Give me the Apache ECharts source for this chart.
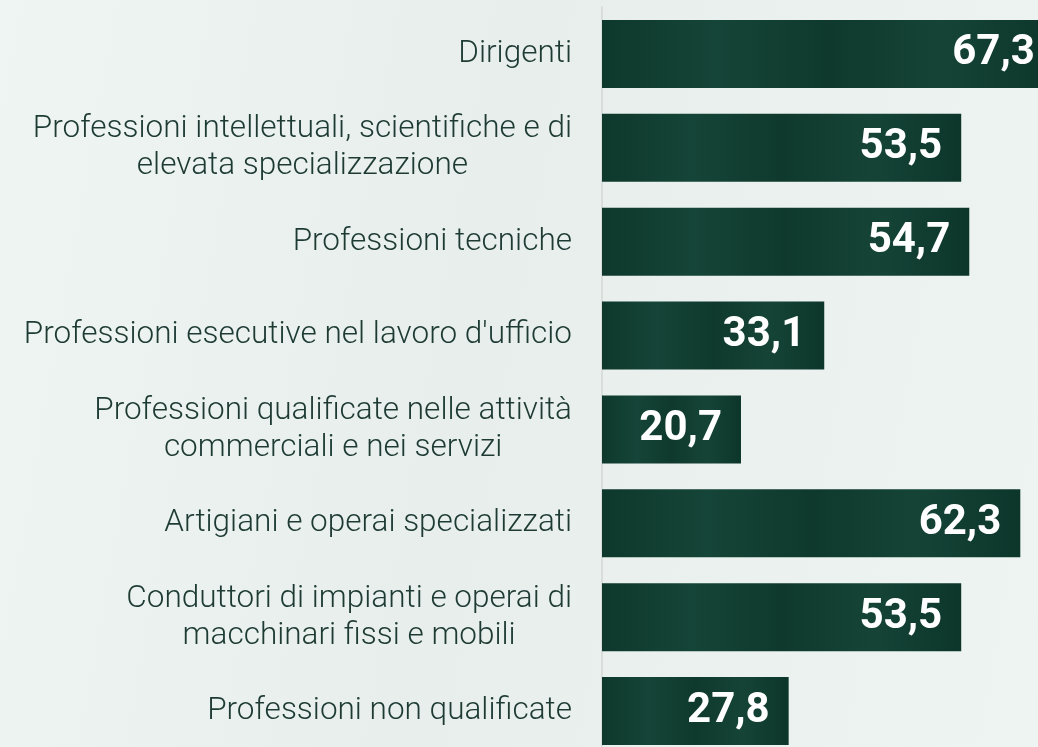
<!DOCTYPE html>
<html>
<head>
<meta charset="utf-8">
<script src="https://cdn.jsdelivr.net/npm/echarts@6/dist/echarts.min.js"></script>
<style>
  html, body { margin: 0; padding: 0; }
  body { background: linear-gradient(100deg, #eef5f2 0%, #e8eeec 45%, #edf4f1 100%); }
  #chart { width: 1038px; height: 747px; }
</style>
</head>
<body>
<div id="chart"></div>
<script>
// categorie (dall'alto verso il basso)
const categories = [
  "Dirigenti",
  "Professioni intellettuali, scientifiche e di\nelevata specializzazione",
  "Professioni tecniche",
  "Professioni esecutive nel lavoro d'ufficio",
  "Professioni qualificate nelle attività\ncommerciali e nei servizi",
  "Artigiani e operai specializzati",
  "Conduttori di impianti e operai di\nmacchinari fissi e mobili",
  "Professioni non qualificate"
];
const values = [67.3, 53.5, 54.7, 33.1, 20.7, 62.3, 53.5, 27.8];

const chart = echarts.init(document.getElementById("chart"));

const barColor = new echarts.graphic.LinearGradient(0, 0, 1, 0, [
  { offset: 0, color: "#0e382c" },
  { offset: 0.25, color: "#154538" },
  { offset: 0.5, color: "#0f392d" },
  { offset: 0.75, color: "#154437" },
  { offset: 1, color: "#0d362b" }
]);

chart.setOption({
  animation: false,
  grid: {
    left: 602,
    top: 7,
    width: 470,
    height: 751,
    outerBoundsMode: "none"
  },
  xAxis: {
    type: "value",
    min: 0,
    max: 70,
    show: false
  },
  yAxis: {
    type: "category",
    data: categories,
    inverse: true,
    axisTick: { show: false },
    axisLine: { show: true, lineStyle: { color: "#d9dddc", width: 2 } },
    axisLabel: {
      margin: 30,
      align: "right",
      formatter: function (val) {
        // righe centrate tra loro
        return val.split("\n").map(function (s) { return "{c|" + s + "}"; }).join("\n");
      },
      rich: {
        c: {
          align: "center",
          fontFamily: "Roboto",
          fontWeight: 300,
          fontSize: 31.5,
          lineHeight: 37,
          color: "#1d3a33"
        }
      }
    }
  },
  series: [
    {
      type: "bar",
      data: values,
      barWidth: 68,
      itemStyle: { color: barColor },
      label: {
        show: true,
        position: "insideRight",
        distance: 19,
        color: "#ffffff",
        fontFamily: "Roboto",
        fontWeight: 700,
        fontSize: 42,
        formatter: function (p) {
          return p.value.toFixed(1).replace(".", ",");
        }
      }
    }
  ]
});
</script>
</body>
</html>
